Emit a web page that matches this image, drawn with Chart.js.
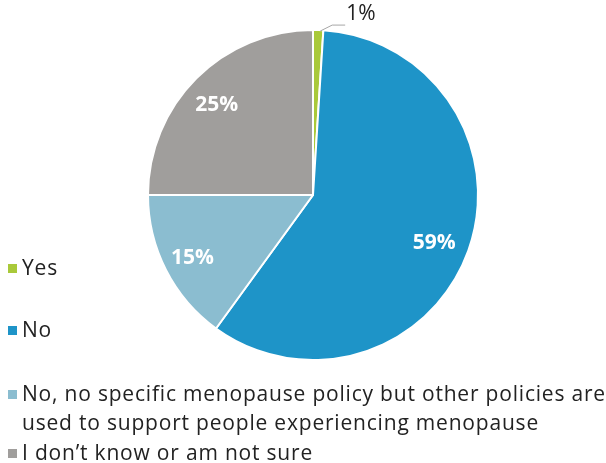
<!DOCTYPE html>
<html>
<head>
<meta charset="utf-8">
<script src="https://cdn.jsdelivr.net/npm/chart.js@4/dist/chart.umd.min.js"></script>
<style>
  html, body { margin: 0; padding: 0; background: #fff; }
  #wrap { position: relative; width: 606px; height: 463px; }
  #pie { position: absolute; left: 0; top: 0; }
  .legend { position: absolute; left: 0; font-family: "Open Sans", Lato, sans-serif; font-size: 21px; letter-spacing: 0.8px; color: #222; line-height: 29px; }
  .legend .sw { position: absolute; left: 8px; width: 9px; height: 9px; top: 11px; }
  .legend .tx { position: absolute; left: 22px; white-space: nowrap; }
</style>
</head>
<body>
<div id="wrap">
  <canvas id="pie" width="606" height="463"></canvas>
  <div id="legend"></div>
</div>
<script>
// ── Data ──
const categories = ['Yes', 'No', 'No, no specific menopause policy but other policies are\nused to support people experiencing menopause', 'I don\u2019t know or am not sure'];
const values = [1, 59, 15, 25];
const colors = ['#a9c93a', '#1e94c8', '#8bbdd0', '#a09e9c'];
const legendTops = [253, 315, 379, 438];

// ── HTML legend ──
const legend = document.getElementById('legend');
categories.forEach((c, i) => {
    const item = document.createElement('div');
    item.className = 'legend';
    item.style.top = legendTops[i] + 'px';
    item.innerHTML = `<div class="sw" style="background:${colors[i]}"></div><div class="tx">${c.replace('\n', '<br>')}</div>`;
    legend.appendChild(item);
});

// ── Slice labels ──
const sliceLabels = {
    id: 'sliceLabels',
    afterDatasetsDraw(chart) {
        const ctx = chart.ctx;
        const meta = chart.getDatasetMeta(0);
        ctx.save();
        meta.data.forEach((arc, i) => {
            const { x, y, startAngle, endAngle, outerRadius } = arc.getProps(['x', 'y', 'startAngle', 'endAngle', 'outerRadius'], true);
            const mid = (startAngle + endAngle) / 2;
            const txt = values[i] + '%';
            if (values[i] < 5) {
                // outside label with leader line
                const ex = x + Math.cos(mid) * outerRadius;
                const ey = y + Math.sin(mid) * outerRadius;
                ctx.strokeStyle = '#a6a6a6';
                ctx.lineWidth = 1;
                ctx.beginPath();
                ctx.moveTo(ex + 2, ey + 1);
                ctx.lineTo(ex + 14, ey - 5);
                ctx.lineTo(ex + 27, ey - 5);
                ctx.stroke();
                ctx.fillStyle = '#222';
                ctx.font = '21px "Open Sans", Lato, sans-serif';
                ctx.textAlign = 'left';
                ctx.textBaseline = 'middle';
                ctx.fillText(txt, ex + 28, ey - 16);
            } else {
                const r = outerRadius * 0.8;
                ctx.fillStyle = '#fff';
                ctx.font = 'bold 21px "Open Sans", Lato, sans-serif';
                ctx.textAlign = 'center';
                ctx.textBaseline = 'middle';
                ctx.fillText(txt, x + Math.cos(mid) * r - 3, y + Math.sin(mid) * r + 3);
            }
        });
        ctx.restore();
    }
};

new Chart(document.getElementById('pie'), {
    type: 'pie',
    data: {
        labels: categories,
        datasets: [{
            data: values,
            backgroundColor: colors,
            borderColor: '#ffffff',
            borderWidth: 2,
            hoverOffset: 0
        }]
    },
    options: {
        responsive: false,
        animation: false,
        layout: { padding: { left: 147, right: 127, top: 29, bottom: 102 } },
        plugins: {
            legend: { display: false },
            tooltip: { enabled: false }
        }
    },
    plugins: [sliceLabels]
});
</script>
</body>
</html>
